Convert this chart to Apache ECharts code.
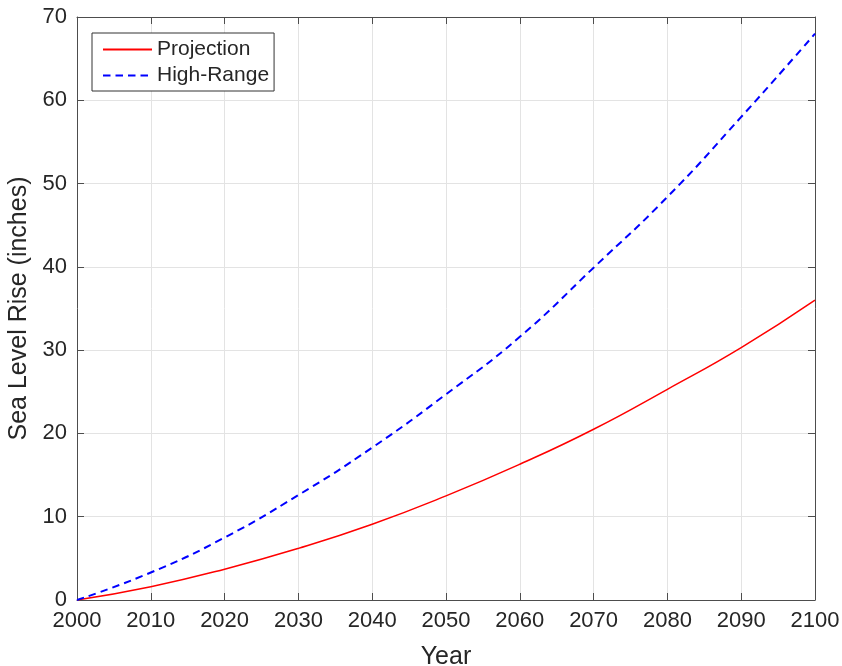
<!DOCTYPE html>
<html>
<head>
<meta charset="utf-8">
<script src="https://cdn.jsdelivr.net/npm/echarts@6/dist/echarts.min.js"></script>
<style>
html,body{margin:0;padding:0;background:#fff;}
#chart{width:842px;height:666px;}
</style>
</head>
<body>
<div id="chart"></div>
<script>
var years = [2000, 2010, 2020, 2030, 2040, 2050, 2060, 2070, 2080, 2090, 2100];
var projection = [0, 1.6, 3.7, 6.2, 9.1, 12.5, 16.3, 20.5, 25.3, 30.3, 36.0];
var highRange = [0, 3.3, 7.5, 12.6, 18.3, 24.7, 31.6, 39.9, 48.4, 58.0, 68.0];
var seriesNames = ['Projection', 'High-Range'];
var xLabel = 'Year';
var yLabel = 'Sea Level Rise (inches)';

function pairs(xs, ys) { return xs.map(function (x, i) { return [x, ys[i]]; }); }

var font = 'Liberation Sans, Arial, Helvetica, sans-serif';
var axisColor = '#4d4d4d';
var textColor = '#262626';
var gridColor = '#e3e3e3';

var chart = echarts.init(document.getElementById('chart'), null, {renderer: 'canvas'});
var baseX = {
  type: 'value', min: 2000, max: 2100, interval: 10,
  axisLine: {show: true, onZero: false, lineStyle: {color: axisColor, width: 1}},
  axisTick: {show: true, inside: true, length: 7, lineStyle: {color: axisColor}},
  splitLine: {show: false}
};
var baseY = {
  type: 'value', min: 0, max: 70, interval: 10,
  axisLine: {show: true, onZero: false, lineStyle: {color: axisColor, width: 1}},
  axisTick: {show: true, inside: true, length: 7, lineStyle: {color: axisColor}},
  splitLine: {show: false}
};
var option = {
  animation: false,
  backgroundColor: '#fff',
  textStyle: {fontFamily: font},
  grid: {left: 77, right: 27, top: 17, bottom: 66, containLabel: false, outerBoundsMode: 'none'},
  legend: {
    orient: 'vertical', left: 92, top: 33,
    data: seriesNames,
    backgroundColor: '#fff',
    borderColor: '#333', borderWidth: 1,
    padding: [6, 5, 5, 10],
    itemGap: 5, itemWidth: 49, itemHeight: 14,
    itemStyle: {opacity: 0},
    textStyle: {fontFamily: font, fontSize: 21, color: textColor}
  },
  xAxis: [
    Object.assign({}, baseX, {
      position: 'bottom',
      name: xLabel, nameLocation: 'middle', nameGap: 45,
      nameTextStyle: {fontFamily: font, fontSize: 25, color: textColor},
      axisLabel: {fontFamily: font, fontSize: 22, color: textColor, margin: 10,
        formatter: function (v) { return String(v); }},
      splitLine: {show: true, lineStyle: {color: gridColor, width: 1}}
    }),
    Object.assign({}, baseX, {position: 'top', axisLabel: {show: false}})
  ],
  yAxis: [
    Object.assign({}, baseY, {
      position: 'left',
      name: yLabel, nameLocation: 'middle', nameGap: 39,
      nameTextStyle: {fontFamily: font, fontSize: 25, color: textColor},
      axisLabel: {fontFamily: font, fontSize: 22, color: textColor, margin: 10},
      splitLine: {show: true, lineStyle: {color: gridColor, width: 1}}
    }),
    Object.assign({}, baseY, {position: 'right', axisLabel: {show: false}})
  ],
  series: [
    {
      name: seriesNames[0], type: 'line', xAxisIndex: 0, yAxisIndex: 0,
      data: pairs(years, projection), smooth: true, symbol: 'none', showSymbol: false,
      lineStyle: {color: '#ff0000', width: 1.5, type: 'solid'},
      itemStyle: {color: '#ff0000'}
    },
    {
      name: seriesNames[1], type: 'line', xAxisIndex: 0, yAxisIndex: 0,
      data: pairs(years, highRange), smooth: true, symbol: 'none', showSymbol: false,
      lineStyle: {color: '#0000ff', width: 2, type: [7.5, 5]},
      itemStyle: {color: '#0000ff'}
    }
  ]
};
chart.setOption(option);
</script>
</body>
</html>
